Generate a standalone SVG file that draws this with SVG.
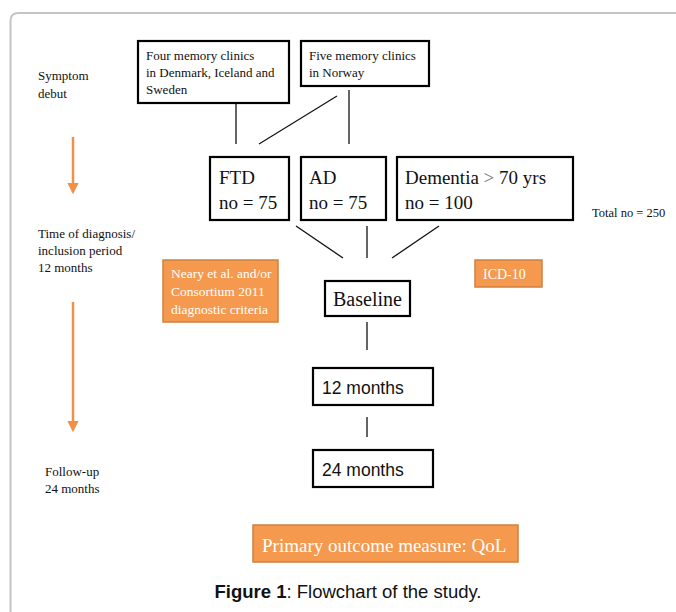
<svg xmlns="http://www.w3.org/2000/svg" width="676" height="612" viewBox="0 0 676 612">
<defs>
<style>
.box{fill:#fff;stroke:#000;stroke-width:2.2}
.obox{fill:#f4994e;stroke:#d0803f;stroke-width:1.5}
.ser{font-family:"Liberation Serif","Times New Roman",serif;fill:#111}
.wt{font-family:"Liberation Serif","Times New Roman",serif;fill:#fff}
.sans{font-family:"Liberation Sans",Arial,sans-serif;fill:#111}
.ln{stroke:#111;stroke-width:1.3;fill:none}
.arr{stroke:#f0914a;stroke-width:2.5;fill:none}
</style>
<marker id="ah" viewBox="0 0 10 10" refX="8" refY="5" markerWidth="4.5" markerHeight="4.5" orient="auto">
<path d="M0,0 L10,5 L0,10 z" fill="#f0914a"/>
</marker>
</defs>
<rect width="676" height="612" fill="#fff"/>
<path d="M10.5 612 V21 Q10.5 13 18.5 13 H676" fill="none" stroke="#c4c4c4" stroke-width="2"/>

<g id="labels">
<text class="ser" font-size="13" x="38" y="80">Symptom</text>
<text class="ser" font-size="13" x="38" y="98">debut</text>
<text class="ser" font-size="13" x="38" y="238">Time of diagnosis/</text>
<text class="ser" font-size="13" x="38" y="255">inclusion period</text>
<text class="ser" font-size="13" x="38" y="272">12 months</text>
<text class="ser" font-size="13" x="45" y="476">Follow-up</text>
<text class="ser" font-size="13" x="45" y="493">24 months</text>
<text class="ser" font-size="12.5" x="592" y="217">Total no = 250</text>
</g>

<g id="time-arrows">
<line class="arr" x1="73" y1="137" x2="73" y2="192" marker-end="url(#ah)"/>
<line class="arr" x1="73" y1="302" x2="73" y2="430" marker-end="url(#ah)"/>
</g>

<g id="connectors">
<line class="ln" x1="236" y1="103" x2="236" y2="144"/>
<line class="ln" x1="337" y1="96" x2="259" y2="144"/>
<line class="ln" x1="349" y1="90" x2="349" y2="144"/>
<line class="ln" x1="296" y1="226" x2="343" y2="258"/>
<line class="ln" x1="367" y1="226" x2="367" y2="258"/>
<line class="ln" x1="439" y1="226" x2="392" y2="258"/>
<line class="ln" x1="367" y1="322" x2="367" y2="350"/>
<line class="ln" x1="367" y1="417" x2="367" y2="437"/>
</g>

<g id="clinics-a">
<rect class="box" x="138" y="41" width="151" height="62"/>
<text class="ser" font-size="13" x="146" y="60">Four memory clinics</text>
<text class="ser" font-size="13" x="146" y="77">in Denmark, Iceland and</text>
<text class="ser" font-size="13" x="146" y="94">Sweden</text>
</g>
<g id="clinics-b">
<rect class="box" x="301" y="41" width="128" height="45"/>
<text class="ser" font-size="13" x="309" y="60">Five memory clinics</text>
<text class="ser" font-size="13" x="309" y="77">in Norway</text>
</g>

<g id="ftd">
<rect class="box" x="210" y="157" width="79" height="63"/>
<text class="ser" font-size="19" x="219" y="184">FTD</text>
<text class="ser" font-size="19" x="219" y="209">no = 75</text>
</g>
<g id="ad">
<rect class="box" x="301" y="157" width="85" height="63"/>
<text class="ser" font-size="19" x="309" y="184">AD</text>
<text class="ser" font-size="19" x="309" y="209">no = 75</text>
</g>
<g id="dementia">
<rect class="box" x="397" y="157" width="176" height="63"/>
<text class="ser" font-size="19" x="405" y="184">Dementia <tspan fill="#777">&gt;</tspan> 70 yrs</text>
<text class="ser" font-size="19" x="405" y="209">no = 100</text>
</g>

<g id="neary">
<rect class="obox" x="163" y="260" width="115" height="62"/>
<text class="wt" font-size="13.5" x="171" y="278">Neary et al. and/or</text>
<text class="wt" font-size="13.5" x="171" y="296">Consortium 2011</text>
<text class="wt" font-size="13.5" x="171" y="314">diagnostic  criteria</text>
</g>
<g id="icd">
<rect class="obox" x="475" y="260" width="67" height="27"/>
<text class="wt" font-size="14" x="483" y="279">ICD-10</text>
</g>

<g id="baseline">
<rect class="box" x="325" y="281" width="85" height="35"/>
<text class="ser" font-size="20" x="333" y="306">Baseline</text>
</g>
<g id="m12">
<rect class="box" x="313" y="368" width="120" height="37"/>
<text class="sans" font-size="17.5" x="322" y="394">12 months</text>
</g>
<g id="m24">
<rect class="box" x="313" y="450" width="120" height="37"/>
<text class="sans" font-size="17.5" x="322" y="476">24 months</text>
</g>

<g id="outcome">
<rect class="obox" x="253" y="525" width="265" height="37"/>
<text class="wt" font-size="19" x="262" y="552">Primary outcome measure: QoL</text>
</g>

<g id="caption">
<text class="sans" font-size="18.5" x="348" y="598" text-anchor="middle"><tspan font-weight="bold">Figure 1</tspan>: Flowchart of the study.</text>
</g>
</svg>
